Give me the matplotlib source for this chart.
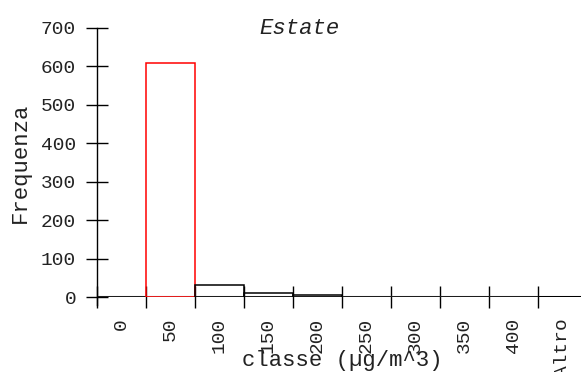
import matplotlib
matplotlib.use("Agg")
import matplotlib.pyplot as plt

categories = ["0", "50", "100", "150", "200", "250", "300", "350", "400", "Altro"]
frequencies = [0, 610, 32, 11, 4, 0, 0, 0, 0, 0]
edge_colors = ["black", "red", "black", "black", "black", "black", "black", "black", "black", "black"]
y_ticks = [0, 100, 200, 300, 400, 500, 600, 700]

FONT = "Liberation Mono"
plt.rcParams["font.family"] = [FONT, "DejaVu Sans"]

W, H = 581, 372
fig = plt.figure(figsize=(W / 100, H / 100), dpi=100)
left, right, bottom_px, top_px = 97, 587, 297, 28
ax = fig.add_axes([left / W, (H - bottom_px) / H, (right - left) / W, (bottom_px - top_px) / H])

x = list(range(len(categories)))
ax.bar(x, frequencies, width=1.0, facecolor="none", edgecolor=edge_colors, linewidth=1.1, zorder=3)

ax.set_xlim(-0.5, len(categories) - 0.5)
ax.set_ylim(0, 700)

for s in ["top", "right", "bottom", "left"]:
    ax.spines[s].set_visible(False)

# y axis line extends slightly below zero
ext = 700 * 8 / (bottom_px - top_px)
ax.plot([-0.5, -0.5], [-ext, 700], color="black", lw=1.0, clip_on=False, zorder=4)
ax.axhline(0, color="#808080", lw=1.5, zorder=2)

ax.set_yticks(y_ticks)
ax.set_yticklabels([str(v) for v in y_ticks])
ax.tick_params(axis="y", direction="inout", length=16, width=1.0, pad=7, labelsize=14, labelcolor="#222222")

bounds = [i - 0.5 for i in range(len(categories))]
ax.set_xticks(bounds)
ax.set_xticklabels([""] * len(bounds))
ax.tick_params(axis="x", which="major", direction="inout", length=16, width=1.0)
ax.set_xticks(x, minor=True)
ax.set_xticklabels(categories, minor=True, rotation=90, va="top", ha="center")
ax.tick_params(axis="x", which="minor", length=0, pad=15, labelsize=14, labelcolor="#222222")

fig.text(299 / W, 1 - 28 / H, "Estate", ha="center", va="center", fontsize=16, style="italic", color="#222222")
fig.text(342 / W, 1 - 372 / H + 0.003, "classe (µg/m^3)", ha="center", va="bottom", fontsize=16, color="#222222")
fig.text(20 / W, 1 - 163 / H, "Frequenza", ha="center", va="center", rotation=90, fontsize=16, color="#222222")

fig.savefig("out.png", dpi=100)
